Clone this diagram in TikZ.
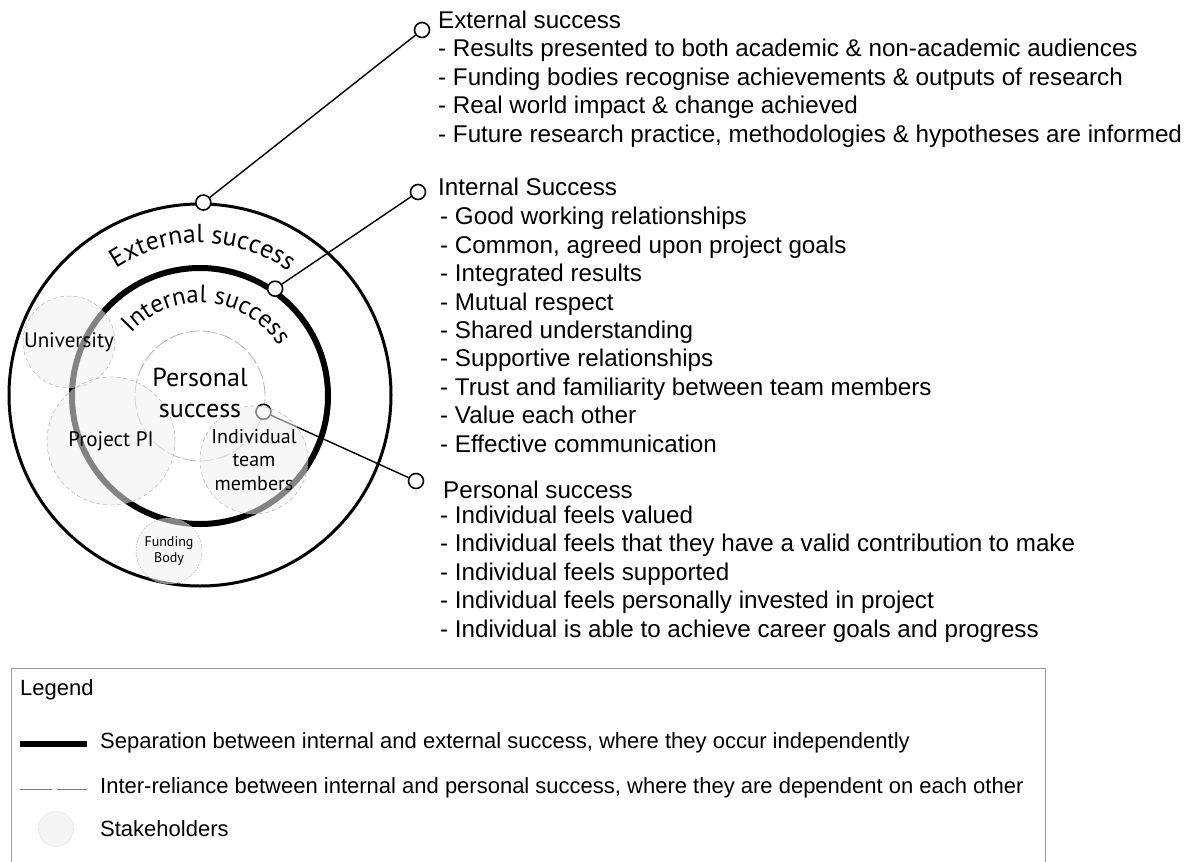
\documentclass[tikz,border=0pt]{standalone}
\usepackage{fontspec}
\setmainfont{Liberation Sans}
\newfontfamily\ringfont{PT Sans}
\usetikzlibrary{positioning, decorations.text}

\begin{document}
\begin{tikzpicture}[x=1pt, y=1pt,
  ring/.style={circle, draw, inner sep=0pt},
  knob/.style={circle, draw, line width=1.6pt, fill=white, minimum size=15pt, inner sep=0pt},
  stake/.style={circle, draw=gray!70, dash pattern=on 4pt off 3pt, fill=gray!12, fill opacity=0.55, text opacity=1, inner sep=0pt, align=center, font=\ringfont\fontsize{21}{24}\selectfont},
  head/.style={anchor=base west, inner sep=0pt, font=\fontsize{24.2}{28}\selectfont},
  items/.style={anchor=base west, align=left, inner sep=0pt, font=\fontsize{24.2}{28.4}\selectfont},
  legtext/.style={anchor=west, inner sep=0pt, font=\fontsize{22}{24}\selectfont},
  link/.style={line width=1.4pt}]
\useasboundingbox (0,0) rectangle (1186,-862);

% rings
\node[ring, line width=3pt, minimum size=382pt] (outer) at (200,-395) {};
\node[ring, line width=6pt, minimum size=256pt] (inner) at (200,-396) {};
\node[ring, draw=gray!60, line width=0.8pt, dash pattern=on 14pt off 3pt, minimum size=130pt] (personal) at (200,-396) {};

% ring labels
\path[decorate, decoration={text along path, text align=center,
  text={|\ringfont\fontsize{26}{26}\selectfont|External success}}]
  (200,-395) ++(140:152) arc[start angle=140, end angle=38, radius=152];
\path[decorate, decoration={text along path, text align=center,
  text={|\ringfont\fontsize{25}{25}\selectfont|Internal success}}]
  (200,-396) ++(148:93) arc[start angle=148, end angle=22, radius=93];

% connectors
\node[knob] (extA) at (outer.89) {};
\node[knob] (extB) at (422,-30) {};
\node[knob] (intA) at (inner.55) {};
\node[knob] (intB) at (418,-192) {};
\node[knob] (perA) at (personal.-14) {};
\node[knob] (perB) at (416,-481) {};
\draw[link] (extA) -- (extB);
\draw[link] (intA) -- (intB);
\draw[link] (perA) -- (perB);

% stakeholders
\node[stake, minimum size=92pt] (uni) at (69,-342) {University};
\node[stake, minimum size=128pt] (pi) at (111,-441) {Project PI};
\node[stake, minimum size=108pt, font=\ringfont\fontsize{20}{23.5}\selectfont] (team) at (254,-460) {Individual\\team\\members};
\node[stake, dash pattern=on 1.5pt off 1.5pt, minimum size=66pt, font=\ringfont\fontsize{14}{16}\selectfont] (fund) at (169,-551) {Funding\\Body};
\node[align=center, inner sep=0pt, font=\ringfont\fontsize{26}{31}\selectfont] (ptext) at (200,-393) {Personal\\success};

% text blocks (base = last line)
\node[head] (exthead) at (438,-28) {External success};
\node[items] (extlist) at (438,-142) {%
- Results presented to both academic \& non-academic audiences\\
- Funding bodies recognise achievements \& outputs of research\\
- Real world impact \& change achieved\\
- Future research practice, methodologies \& hypotheses are informed};

\node[head] (inthead) at (438,-195) {Internal Success};
\node[items] (intlist) at (440,-452) {%
- Good working relationships\\
- Common, agreed upon project goals\\
- Integrated results\\
- Mutual respect\\
- Shared understanding\\
- Supportive relationships\\
- Trust and familiarity between team members\\
- Value each other\\
- Effective communication};

\node[head] (perhead) at (443,-498) {Personal success};
\node[items] (perlist) at (440,-637) {%
- Individual feels valued\\
- Individual feels that they have a valid contribution to make\\
- Individual feels supported\\
- Individual feels personally invested in project\\
- Individual is able to achieve career goals and progress};

% legend
\draw[gray!80, line width=0.8pt] (11,-870) |- (1045,-668) -- (1045,-870);
\node[legtext] (leg) at (20,-690) {Legend};
\coordinate (sepA) at (20,-744);
\coordinate (sepB) at (87,-744);
\draw[line width=6pt] (sepA) -- (sepB);
\node[legtext] (septext) at (100,-743) {Separation between internal and external success, where they occur independently};
\coordinate (relA) at (20,-789);
\coordinate (relB) at (87,-789);
\draw[gray, line width=0.6pt, dash pattern=on 32pt off 5pt] (relA) -- (relB);
\node[legtext] (reltext) at (100,-788) {Inter-reliance between internal and personal success, where they are dependent on each other};
\node[circle, draw=gray!40, dash pattern=on 1pt off 1pt, fill=gray!8, minimum size=35pt, inner sep=0pt] (stkey) at (56,-829) {};
\node[legtext] (stktext) at (100,-829) {Stakeholders};
\end{tikzpicture}
\end{document}
